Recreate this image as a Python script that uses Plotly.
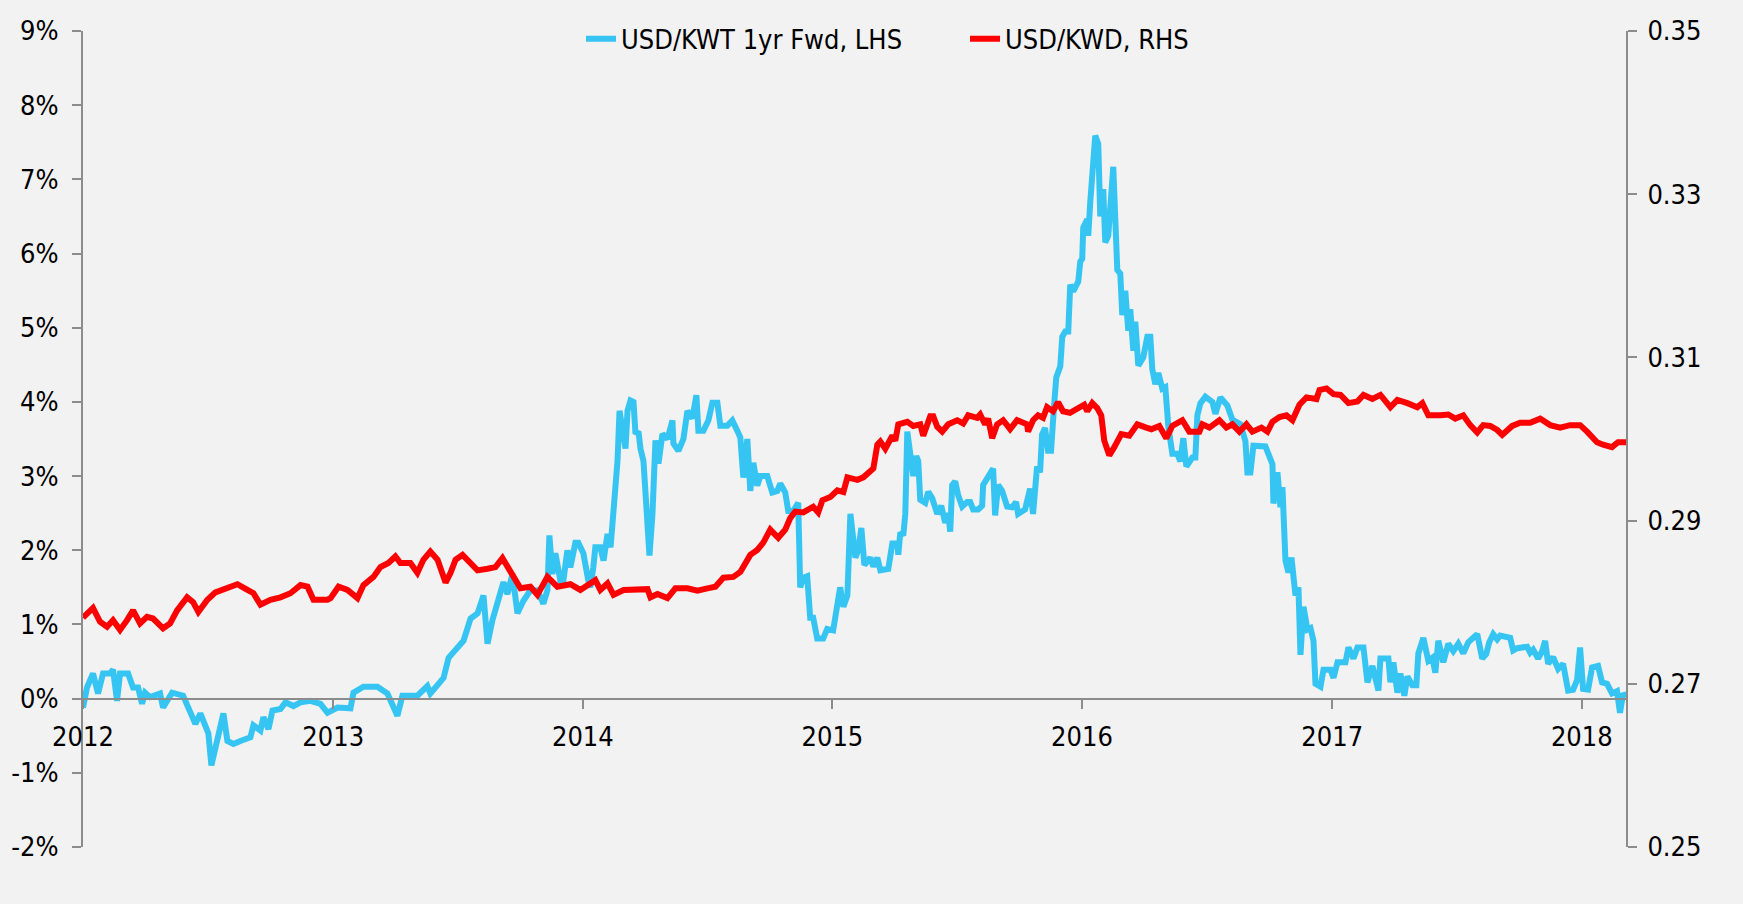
import plotly.graph_objects as go
from datetime import datetime

# ---- data (time in decimal years) ----
kwt_t = [2012.000, 2012.016, 2012.040, 2012.060, 2012.080, 2012.108, 2012.120, 2012.136, 2012.148, 2012.180,
         2012.200, 2012.220, 2012.236, 2012.248, 2012.268, 2012.308, 2012.320, 2012.356, 2012.400, 2012.429,
         2012.449, 2012.469, 2012.489, 2012.501, 2012.513, 2012.529, 2012.541, 2012.561, 2012.577, 2012.601,
         2012.629, 2012.669, 2012.681, 2012.709, 2012.721, 2012.741, 2012.757, 2012.789, 2012.809, 2012.841,
         2012.869, 2012.909, 2012.949, 2012.977,
         2013.017, 2013.069, 2013.081, 2013.121, 2013.177, 2013.217, 2013.257, 2013.277, 2013.337, 2013.377,
         2013.389, 2013.418, 2013.442, 2013.462, 2013.498, 2013.522, 2013.550, 2013.578, 2013.602, 2013.618,
         2013.638, 2013.658, 2013.682, 2013.698, 2013.718, 2013.738, 2013.762, 2013.790, 2013.818, 2013.842,
         2013.858, 2013.866, 2013.878, 2013.890, 2013.910, 2013.922, 2013.938, 2013.950, 2013.970, 2013.982,
         2014.002, 2014.022,
         2014.030, 2014.042, 2014.050, 2014.070, 2014.083, 2014.099, 2014.111, 2014.119, 2014.131, 2014.139,
         2014.147, 2014.159, 2014.171, 2014.179, 2014.191, 2014.203, 2014.211, 2014.223, 2014.231, 2014.243,
         2014.259, 2014.267, 2014.279, 2014.291, 2014.303, 2014.319, 2014.339, 2014.359, 2014.363, 2014.383,
         2014.403, 2014.419, 2014.439, 2014.455, 2014.463, 2014.483, 2014.503, 2014.519, 2014.539, 2014.551,
         2014.579, 2014.599, 2014.619, 2014.631, 2014.643, 2014.659, 2014.671, 2014.683, 2014.699, 2014.711,
         2014.739, 2014.759, 2014.779, 2014.791, 2014.811, 2014.823, 2014.843, 2014.863, 2014.871, 2014.883,
         2014.899, 2014.911, 2014.923, 2014.939, 2014.963, 2014.979,
         2015.003, 2015.015, 2015.031, 2015.044, 2015.060, 2015.072, 2015.092, 2015.104, 2015.116, 2015.128,
         2015.152, 2015.164, 2015.180, 2015.192, 2015.224, 2015.240, 2015.260, 2015.264, 2015.272, 2015.284,
         2015.292, 2015.300, 2015.312, 2015.324, 2015.336, 2015.344, 2015.352, 2015.372, 2015.384, 2015.400,
         2015.420, 2015.436, 2015.452, 2015.464, 2015.472, 2015.480, 2015.492, 2015.504, 2015.520, 2015.540,
         2015.552, 2015.564, 2015.584, 2015.600, 2015.604, 2015.624, 2015.644, 2015.652, 2015.664, 2015.680,
         2015.700, 2015.720, 2015.736, 2015.744, 2015.772, 2015.792, 2015.804, 2015.820, 2015.832, 2015.840,
         2015.852, 2015.864, 2015.876, 2015.888, 2015.897, 2015.913, 2015.921, 2015.933, 2015.945, 2015.953,
         2015.965, 2015.985, 2015.993,
         2016.001, 2016.005, 2016.021, 2016.025, 2016.033, 2016.045, 2016.053, 2016.065, 2016.073, 2016.085,
         2016.093, 2016.105, 2016.121, 2016.125, 2016.141, 2016.153, 2016.161, 2016.173, 2016.185, 2016.193,
         2016.205, 2016.213, 2016.225, 2016.245, 2016.261, 2016.273, 2016.281, 2016.293, 2016.305, 2016.321,
         2016.333, 2016.345, 2016.361, 2016.381, 2016.393, 2016.405, 2016.417, 2016.441, 2016.453, 2016.461,
         2016.473, 2016.493, 2016.521, 2016.533, 2016.553, 2016.581, 2016.601, 2016.633, 2016.653, 2016.661,
         2016.673, 2016.685, 2016.733, 2016.761, 2016.765, 2016.781, 2016.793, 2016.801, 2016.813, 2016.825,
         2016.837, 2016.853, 2016.865, 2016.873, 2016.885, 2016.901, 2016.913, 2016.925, 2016.933, 2016.953,
         2016.965, 2016.993,
         2017.005, 2017.021, 2017.053, 2017.065, 2017.085, 2017.101, 2017.125, 2017.133, 2017.141, 2017.161,
         2017.173, 2017.185, 2017.193, 2017.225, 2017.233, 2017.245, 2017.261, 2017.273, 2017.289, 2017.301,
         2017.321, 2017.337, 2017.345, 2017.365, 2017.385, 2017.401, 2017.413, 2017.425, 2017.445, 2017.465,
         2017.485, 2017.505, 2017.525, 2017.545, 2017.565, 2017.581, 2017.601, 2017.617, 2017.629, 2017.645,
         2017.661, 2017.673, 2017.713, 2017.725, 2017.741, 2017.781, 2017.793, 2017.805, 2017.825, 2017.841,
         2017.853, 2017.865, 2017.885, 2017.905, 2017.925, 2017.945, 2017.965, 2017.981, 2017.993,
         2018.005, 2018.025, 2018.041, 2018.065, 2018.081, 2018.101, 2018.121, 2018.141, 2018.153, 2018.165,
         2018.177]
kwt_v = [-0.12, 0.15, 0.34, 0.07, 0.34, 0.34, 0.39, -0.03, 0.34, 0.34,
         0.15, 0.15, -0.07, 0.08, 0.02, 0.07, -0.12, 0.08, 0.04, -0.19,
         -0.34, -0.20, -0.39, -0.47, -0.90, -0.66, -0.47, -0.20, -0.57, -0.61,
         -0.57, -0.52, -0.36, -0.43, -0.25, -0.41, -0.16, -0.14, -0.05, -0.10,
         -0.05, -0.03, -0.07, -0.19,
         -0.12, -0.13, 0.08, 0.16, 0.16, 0.07, -0.23, 0.04, 0.04, 0.17,
         0.07, 0.17, 0.28, 0.55, 0.69, 0.78, 1.08, 1.15, 1.39, 0.74,
         1.06, 1.28, 1.57, 1.41, 1.68, 1.15, 1.32, 1.46, 1.46, 1.28,
         1.46, 2.20, 1.68, 1.96, 1.59, 1.59, 2.00, 1.77, 2.10, 2.10,
         1.96, 1.59,
         1.50, 1.77, 2.04, 2.04, 1.86, 2.22, 2.04, 2.37, 2.80, 3.21,
         3.88, 3.57, 3.37, 3.88, 4.02, 4.00, 3.57, 3.60, 3.37, 3.20,
         2.49, 1.93, 2.49, 3.48, 3.17, 3.57, 3.50, 3.75, 3.44, 3.34,
         3.50, 3.88, 3.78, 4.09, 3.61, 3.61, 3.75, 3.99, 3.99, 3.68,
         3.68, 3.75, 3.61, 3.52, 2.98, 3.50, 2.80, 3.18, 2.87, 3.00,
         3.00, 2.78, 2.80, 2.90, 2.78, 2.53, 2.53, 2.64, 1.50, 1.63,
         1.65, 1.09, 1.09, 0.81, 0.81, 0.94,
         0.92, 1.19, 1.50, 1.24, 1.39, 2.49, 1.90, 2.01, 2.30, 1.80,
         1.90, 1.78, 1.90, 1.73, 1.75, 2.09, 2.09, 1.94, 2.24, 2.20,
         2.49, 3.60, 3.36, 3.00, 3.27, 3.20, 2.68, 2.64, 2.79, 2.70,
         2.49, 2.60, 2.37, 2.50, 2.25, 2.88, 2.93, 2.74, 2.59, 2.65,
         2.65, 2.55, 2.55, 2.60, 2.88, 2.98, 3.10, 2.47, 2.88, 2.80,
         2.59, 2.58, 2.65, 2.49, 2.55, 2.83, 2.49, 3.13, 3.05, 3.56,
         3.65, 3.34, 3.34, 3.94, 4.33, 4.48, 4.88, 4.95, 4.95, 5.58,
         5.49, 5.62, 5.89,
         5.93, 6.35, 6.46, 6.24, 6.69, 7.28, 7.59, 7.48, 6.50, 6.87,
         6.15, 6.24, 6.97, 7.17, 5.78, 5.73, 5.17, 5.50, 4.96, 5.25,
         4.69, 5.08, 4.49, 4.60, 4.88, 4.88, 4.44, 4.24, 4.39, 4.18,
         4.20, 3.67, 3.30, 3.30, 3.20, 3.51, 3.13, 3.25, 3.25, 3.82,
         3.98, 4.07, 4.00, 3.84, 4.06, 3.95, 3.76, 3.70, 3.47, 3.05,
         3.05, 3.41, 3.40, 3.16, 2.63, 3.05, 2.58, 2.85, 1.86, 1.70,
         1.90, 1.39, 1.50, 0.59, 1.24, 0.93, 0.95, 0.78, 0.20, 0.16,
         0.39, 0.39,
         0.28, 0.49, 0.49, 0.69, 0.54, 0.69, 0.69, 0.35, 0.22, 0.44,
         0.27, 0.11, 0.54, 0.54, 0.22, 0.49, 0.08, 0.34, 0.04, 0.30,
         0.18, 0.18, 0.61, 0.82, 0.51, 0.55, 0.35, 0.78, 0.49, 0.74,
         0.64, 0.74, 0.61, 0.76, 0.82, 0.87, 0.54, 0.60, 0.76, 0.87,
         0.80, 0.85, 0.82, 0.65, 0.68, 0.70, 0.62, 0.66, 0.54, 0.64,
         0.78, 0.47, 0.56, 0.40, 0.47, 0.11, 0.12, 0.25, 0.69,
         0.13, 0.12, 0.42, 0.44, 0.22, 0.20, 0.07, 0.10, -0.19, 0.07,
         0.02]

kwd_t = [2012.000, 2012.040, 2012.068, 2012.096, 2012.120, 2012.148, 2012.176, 2012.200, 2012.228, 2012.256,
         2012.280, 2012.320, 2012.348, 2012.376, 2012.416, 2012.440, 2012.461, 2012.497, 2012.529, 2012.577,
         2012.617, 2012.657, 2012.681, 2012.709, 2012.749, 2012.789, 2012.829, 2012.869, 2012.897, 2012.921,
         2012.977, 2012.989,
         2013.021, 2013.057, 2013.097, 2013.121, 2013.161, 2013.189, 2013.221, 2013.249, 2013.269, 2013.309,
         2013.337, 2013.361, 2013.389, 2013.418, 2013.450, 2013.470, 2013.490, 2013.518, 2013.550, 2013.578,
         2013.618, 2013.650, 2013.678, 2013.710, 2013.750, 2013.790, 2013.818, 2013.858, 2013.898, 2013.950,
         2013.990,
         2014.050, 2014.070, 2014.099, 2014.123, 2014.163, 2014.219, 2014.259, 2014.271, 2014.299, 2014.339,
         2014.371, 2014.419, 2014.459, 2014.499, 2014.531, 2014.563, 2014.603, 2014.631, 2014.651, 2014.671,
         2014.699, 2014.723, 2014.751, 2014.783, 2014.811, 2014.831, 2014.851, 2014.883, 2014.923, 2014.943,
         2014.960, 2014.992,
         2015.020, 2015.044, 2015.060, 2015.100, 2015.124, 2015.164, 2015.180, 2015.192, 2015.212, 2015.240,
         2015.252, 2015.264, 2015.300, 2015.324, 2015.352, 2015.364, 2015.392, 2015.404, 2015.420, 2015.440,
         2015.464, 2015.500, 2015.524, 2015.544, 2015.580, 2015.592, 2015.612, 2015.624, 2015.640, 2015.660,
         2015.684, 2015.712, 2015.740, 2015.780, 2015.784, 2015.804, 2015.824, 2015.844, 2015.860, 2015.884,
         2015.904, 2015.924, 2015.952, 2015.980,
         2016.009, 2016.021, 2016.041, 2016.061, 2016.077, 2016.089, 2016.109, 2016.129, 2016.157, 2016.189,
         2016.221, 2016.257, 2016.277, 2016.309, 2016.337, 2016.361, 2016.401, 2016.429, 2016.469, 2016.481,
         2016.509, 2016.549, 2016.577, 2016.601, 2016.629, 2016.657, 2016.681, 2016.717, 2016.741, 2016.761,
         2016.789, 2016.817, 2016.841, 2016.869, 2016.897, 2016.937, 2016.949, 2016.977,
         2017.005, 2017.033, 2017.065, 2017.101, 2017.125, 2017.161, 2017.193, 2017.233, 2017.261, 2017.301,
         2017.341, 2017.361, 2017.385, 2017.433, 2017.465, 2017.493, 2017.525, 2017.553, 2017.581, 2017.605,
         2017.633, 2017.661, 2017.681, 2017.721, 2017.753, 2017.793, 2017.833, 2017.873, 2017.913, 2017.953,
         2017.993,
         2018.021, 2018.061, 2018.085, 2018.121, 2018.145, 2018.177]
kwd_v = [0.2781, 0.2793, 0.2776, 0.2770, 0.2778, 0.2766, 0.2778, 0.2790, 0.2774, 0.2782,
         0.2780, 0.2768, 0.2774, 0.2790, 0.2806, 0.2800, 0.2788, 0.2803, 0.2812, 0.2817,
         0.2822, 0.2815, 0.2811, 0.2797, 0.2803, 0.2806, 0.2811, 0.2821, 0.2819, 0.2803,
         0.2803, 0.2805,
         0.2819, 0.2815, 0.2805, 0.2821, 0.2831, 0.2843, 0.2848, 0.2856, 0.2848, 0.2848,
         0.2836, 0.2852, 0.2862, 0.2852, 0.2824, 0.2836, 0.2852, 0.2858, 0.2848, 0.2839,
         0.2841, 0.2843, 0.2854, 0.2836, 0.2817, 0.2819, 0.2809, 0.2831, 0.2819, 0.2822,
         0.2815,
         0.2827, 0.2815, 0.2823, 0.2809, 0.2815, 0.2815, 0.2816, 0.2806, 0.2810, 0.2805,
         0.2817, 0.2817, 0.2814, 0.2817, 0.2819, 0.2830, 0.2831, 0.2837, 0.2846, 0.2858,
         0.2864, 0.2873, 0.2889, 0.2879, 0.2889, 0.2903, 0.2911, 0.2910, 0.2917, 0.2910,
         0.2925, 0.2929,
         0.2937, 0.2935, 0.2953, 0.2950, 0.2953, 0.2964, 0.2993, 0.2997, 0.2988, 0.3004,
         0.2998, 0.3018, 0.3021, 0.3016, 0.3018, 0.3004, 0.3028, 0.3028, 0.3015, 0.3009,
         0.3018, 0.3023, 0.3019, 0.3029, 0.3026, 0.3030, 0.3018, 0.3025, 0.3001, 0.3018,
         0.3023, 0.3012, 0.3023, 0.3018, 0.3009, 0.3023, 0.3029, 0.3026, 0.3039, 0.3034,
         0.3045, 0.3034, 0.3032, 0.3036,
         0.3042, 0.3034, 0.3044, 0.3038, 0.3029, 0.2998, 0.2980, 0.2990, 0.3006, 0.3004,
         0.3018, 0.3014, 0.3012, 0.3016, 0.3001, 0.3016, 0.3023, 0.3009, 0.3009, 0.3018,
         0.3014, 0.3023, 0.3014, 0.3018, 0.3009, 0.3018, 0.3009, 0.3014, 0.3009, 0.3021,
         0.3027, 0.3029, 0.3023, 0.3042, 0.3051, 0.3049, 0.3060, 0.3062,
         0.3055, 0.3054, 0.3044, 0.3046, 0.3054, 0.3049, 0.3054, 0.3039, 0.3048, 0.3044,
         0.3039, 0.3044, 0.3029, 0.3029, 0.3030, 0.3025, 0.3029, 0.3017, 0.3008, 0.3017,
         0.3016, 0.3011, 0.3005, 0.3016, 0.3020, 0.3020, 0.3025, 0.3017, 0.3014, 0.3017,
         0.3017,
         0.3009, 0.2996, 0.2993, 0.2990, 0.2996, 0.2996]

years = [2012, 2013, 2014, 2015, 2016, 2017, 2018]
year_labels = ["2012", "2013", "2014", "2015", "2016", "2017", "2018"]
left_ticks = [-2, -1, 0, 1, 2, 3, 4, 5, 6, 7, 8, 9]
left_labels = ["-2%", "-1%", "0%", "1%", "2%", "3%", "4%", "5%", "6%", "7%", "8%", "9%"]
right_ticks = [0.25, 0.27, 0.29, 0.31, 0.33, 0.35]
right_labels = ["0.25", "0.27", "0.29", "0.31", "0.33", "0.35"]


def to_date(t):
    y = int(t)
    start = datetime(y, 1, 1)
    end = datetime(y + 1, 1, 1)
    return start + (end - start) * (t - y)


FONT = "DejaVu Sans Condensed, Liberation Sans Narrow, DejaVu Sans, sans-serif"
AXIS = "#8c8c8c"
FS = 27

fig = go.Figure()
fig.add_trace(go.Scatter(
    x=[to_date(t) for t in kwt_t], y=kwt_v, mode="lines",
    name="USD/KWT 1yr Fwd, LHS",
    line=dict(color="#36c5f2", width=6), yaxis="y"))
fig.add_trace(go.Scatter(
    x=[to_date(t) for t in kwd_t], y=kwd_v, mode="lines",
    name="USD/KWD, RHS",
    line=dict(color="#ff0000", width=6), yaxis="y2"))

fig.update_layout(
    width=1743, height=904,
    margin=dict(l=83, r=117, t=31, b=57),
    paper_bgcolor="#f2f2f2", plot_bgcolor="#f2f2f2",
    font=dict(family=FONT, size=FS, color="#000000"),
    showlegend=True,
    legend=dict(orientation="h", x=(581 - 83) / 1543, xanchor="left", y=0.99, yanchor="middle",
                entrywidth=339, entrywidthmode="pixels",
                bgcolor="rgba(0,0,0,0)", font=dict(family=FONT, size=FS)),
    xaxis=dict(
        type="date",
        range=[to_date(2012.0), to_date(2018.177)],
        anchor="free", position=2 / 11,
        showline=True, linecolor=AXIS, linewidth=2,
        ticks="outside", ticklen=9, tickwidth=2, tickcolor=AXIS,
        tickvals=[to_date(y) for y in years], ticktext=year_labels,
        showgrid=False, zeroline=False, ticklabelstandoff=5,
        tickfont=dict(family=FONT, size=FS),
    ),
    yaxis=dict(
        range=[-2, 9], tickvals=left_ticks, ticktext=left_labels,
        showline=True, linecolor=AXIS, linewidth=2,
        ticks="outside", ticklen=9, tickwidth=2, tickcolor=AXIS,
        showgrid=False, zeroline=False, ticklabelstandoff=8,
        tickfont=dict(family=FONT, size=FS),
    ),
    yaxis2=dict(
        range=[0.2499999, 0.3500001], overlaying="y", side="right",
        tickvals=right_ticks, ticktext=right_labels,
        showline=True, linecolor=AXIS, linewidth=2,
        ticks="outside", ticklen=9, tickwidth=2, tickcolor=AXIS,
        showgrid=False, zeroline=False, ticklabelstandoff=5,
        tickfont=dict(family=FONT, size=FS),
    ),
)

fig.write_html("out.html", config={"displayModeBar": False},
               post_script="document.body.style.margin='0';document.body.style.background='#f2f2f2';")
